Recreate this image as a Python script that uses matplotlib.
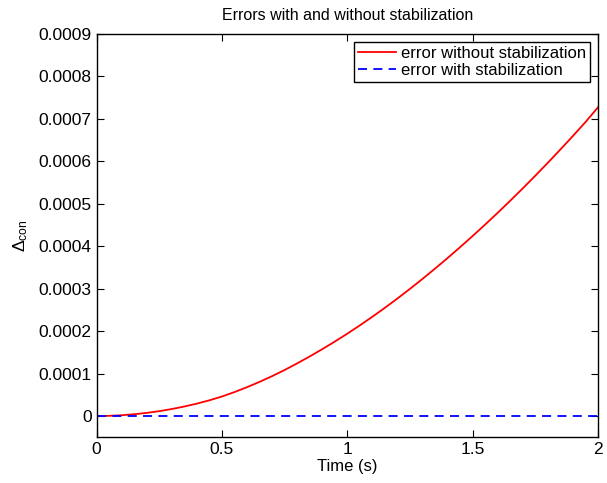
import matplotlib
matplotlib.use("Agg")
import matplotlib.pyplot as plt

plt.rcParams['font.family'] = ['Liberation Sans', 'DejaVu Sans']
plt.rcParams['mathtext.fontset'] = 'custom'
plt.rcParams['mathtext.rm'] = 'Liberation Sans'
plt.rcParams['mathtext.it'] = 'Liberation Sans:italic'

time_s = [0.00, 0.05, 0.10, 0.15, 0.20, 0.25, 0.30, 0.35, 0.40, 0.45,
          0.50, 0.55, 0.60, 0.65, 0.70, 0.75, 0.80, 0.85, 0.90, 0.95,
          1.00, 1.05, 1.10, 1.15, 1.20, 1.25, 1.30, 1.35, 1.40, 1.45,
          1.50, 1.55, 1.60, 1.65, 1.70, 1.75, 1.80, 1.85, 1.90, 1.95, 2.00]
err_without = [0.0, 0.006, 0.020, 0.043, 0.075, 0.116, 0.166, 0.225, 0.293, 0.371,
               0.460, 0.565, 0.680, 0.805, 0.940, 1.085, 1.240, 1.403, 1.574, 1.753,
               1.940, 2.135, 2.338, 2.549, 2.768, 2.995, 3.230, 3.472, 3.721, 3.977,
               4.240, 4.510, 4.787, 5.071, 5.362, 5.660, 5.965, 6.277, 6.596, 6.922, 7.270]
err_without = [v * 1e-4 for v in err_without]
err_with = [0.0] * len(time_s)

xticks = [0, 0.5, 1, 1.5, 2]
xticklabels = ['0', '0.5', '1', '1.5', '2']
yticks = [0, 0.0001, 0.0002, 0.0003, 0.0004, 0.0005, 0.0006, 0.0007, 0.0008, 0.0009]
yticklabels = ['0', '0.0001', '0.0002', '0.0003', '0.0004', '0.0005',
               '0.0006', '0.0007', '0.0008', '0.0009']

fig = plt.figure(figsize=(6.07, 4.83), dpi=100)
ax = fig.add_axes([0.159, 0.0946, 0.826, 0.835])

ax.plot(time_s, err_without, color='#ff0000', lw=1.3, label='error without stabilization')
ax.plot(time_s, err_with, color='#0000ff', lw=1.3, ls=(0, (5, 3.5)), label='error with stabilization')

ax.set_xlim(0, 2)
ax.set_ylim(-0.00005, 0.0009)
ax.set_xticks(xticks)
ax.set_xticklabels(xticklabels)
ax.set_yticks(yticks)
ax.set_yticklabels(yticklabels)
ax.tick_params(direction='in', top=True, right=True, labelsize=12.5, length=5, width=0.8)
for s in ax.spines.values():
    s.set_linewidth(1.0)

ax.set_title('Errors with and without stabilization', fontsize=11.5, pad=10)
ax.set_xlabel('Time (s)', fontsize=12, labelpad=1)
ax.set_ylabel(r'$\Delta_{\rm con}$', fontsize=12.5, labelpad=6)

leg = ax.legend(loc='upper right', fontsize=12, frameon=True, fancybox=False,
                edgecolor='black', framealpha=1, borderpad=0.2, handlelength=2.3,
                handletextpad=0.3, labelspacing=0.15, borderaxespad=0.5)
leg.get_frame().set_linewidth(1.0)

fig.savefig('out.png', dpi=100)
